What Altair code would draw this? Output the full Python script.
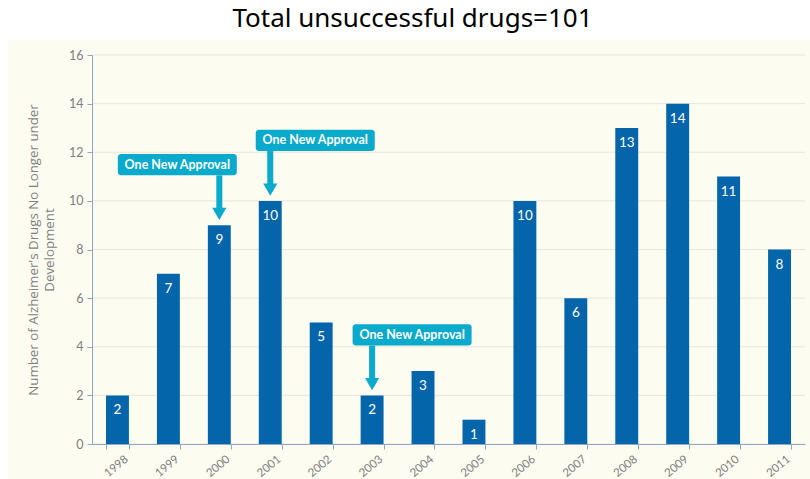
import altair as alt
import pandas as pd

# Alzheimer's drugs dropped from development, per year
years = [str(y) for y in range(1998, 2012)]
counts = [2, 7, 9, 10, 5, 2, 3, 1, 10, 6, 13, 14, 11, 8]

# Years in which a new drug was approved
approval_years = ["2000", "2001", "2003"]
approval_counts = [9, 10, 2]
callout_shift = [-42, 45, 40]  # horizontal shift of each callout box (px)
callout_text = "One New Approval"

y_ticks = list(range(0, 17, 2))

W, H = 713, 389
BAR = "#0565AA"
CALLOUT = "#0AAACD"
CREAM = "#FCFCF1"
AXIS = "#8FA7C6"
GREY = "#7F7F7F"
FONT = "Lato"

bars_df = pd.DataFrame({"year": years, "count": counts})
grid_df = pd.DataFrame({"tick": y_ticks})

x_scale = alt.Scale(domain=years, paddingInner=0.55, paddingOuter=0.275)
y_scale = alt.Scale(domain=[0, 16], nice=False)

x_axis = alt.Axis(
    title=None, labelAngle=-40, labelAlign="right", labelBaseline="top",
    labelOffset=5, labelPadding=4, labelColor=GREY, labelFontSize=11.5,
    labelFont=FONT, tickBand="extent", tickColor=AXIS, tickSize=5,
    domainColor=AXIS, grid=False, zindex=1,
)
y_axis = alt.Axis(
    title=["Number of Alzheimer's Drugs No Longer under", "Development"],
    titleColor=GREY, titleFontSize=13.3, titleFontWeight="normal", titleFont="Open Sans",
    titlePadding=12, titleLineHeight=16, values=y_ticks, labelColor=GREY,
    labelFontSize=12.5, labelFont=FONT, labelPadding=4, tickColor=AXIS, tickSize=5,
    domainColor=AXIS, grid=False, zindex=1,
)

# cream panel behind the plot and its axes
panel = alt.Chart(alt.Data(values=[{}])).mark_rect(color=CREAM).encode(
    x=alt.value(-84), x2=alt.value(W + 5), y=alt.value(-15), y2=alt.value(H + 35)
)

grid = alt.Chart(grid_df).mark_rule(color="#E6E6E0", strokeWidth=1).encode(
    y=alt.Y("tick:Q", scale=y_scale, axis=y_axis)
)

base = alt.Chart(bars_df).encode(
    x=alt.X("year:N", scale=x_scale, axis=x_axis),
    y=alt.Y("count:Q", scale=y_scale, axis=y_axis),
)
bars = base.mark_bar(color=BAR)
values = base.mark_text(
    color="white", fontSize=13.5, font=FONT, dy=15, baseline="middle"
).encode(text="count:Q")

layers = [panel, grid, bars, values]

for yr, cnt, shift in zip(approval_years, approval_counts, callout_shift):
    ann = alt.Chart(alt.Data(values=[{"year": yr, "count": cnt}])).transform_calculate(
        box_lo="datum.count + 2.05",
        box_hi="datum.count + 2.93",
        box_mid="datum.count + 2.49",
        tip="datum.count + 0.22",
        stem_end="datum.count + 0.6",
    )
    xe = alt.X("year:N", scale=x_scale, axis=x_axis)
    box = ann.mark_bar(color=CALLOUT, width=119, xOffset=shift, cornerRadius=3).encode(
        x=xe, y=alt.Y("box_lo:Q", scale=y_scale, axis=y_axis), y2="box_hi:Q"
    )
    stem = ann.mark_rule(color=CALLOUT, strokeWidth=6).encode(
        x=xe, y=alt.Y("box_lo:Q", scale=y_scale, axis=y_axis), y2="stem_end:Q"
    )
    head = ann.mark_point(
        shape="triangle-down", filled=True, color=CALLOUT, size=200, opacity=1, yOffset=-6
    ).encode(x=xe, y=alt.Y("tip:Q", scale=y_scale, axis=y_axis))
    label = ann.mark_text(
        text=callout_text, color="white", fontSize=12.5, fontWeight="bold",
        font=FONT, dx=shift, baseline="middle"
    ).encode(x=xe, y=alt.Y("box_mid:Q", scale=y_scale, axis=y_axis))
    layers += [box, stem, head, label]

chart = alt.layer(*layers).properties(
    width=W, height=H,
    title=alt.TitleParams(
        "Total unsuccessful drugs=101", fontSize=26, font="Noto Sans",
        fontWeight="normal", color="black", anchor="middle", dx=-36, offset=8,
    ),
    autosize=alt.AutoSizeParams(type="none"),
    padding={"left": 92, "top": 55, "right": 5, "bottom": 35},
).configure_view(stroke=None).configure(background="white")

chart.save("out.html", embed_options={"renderer": "svg", "actions": False})
